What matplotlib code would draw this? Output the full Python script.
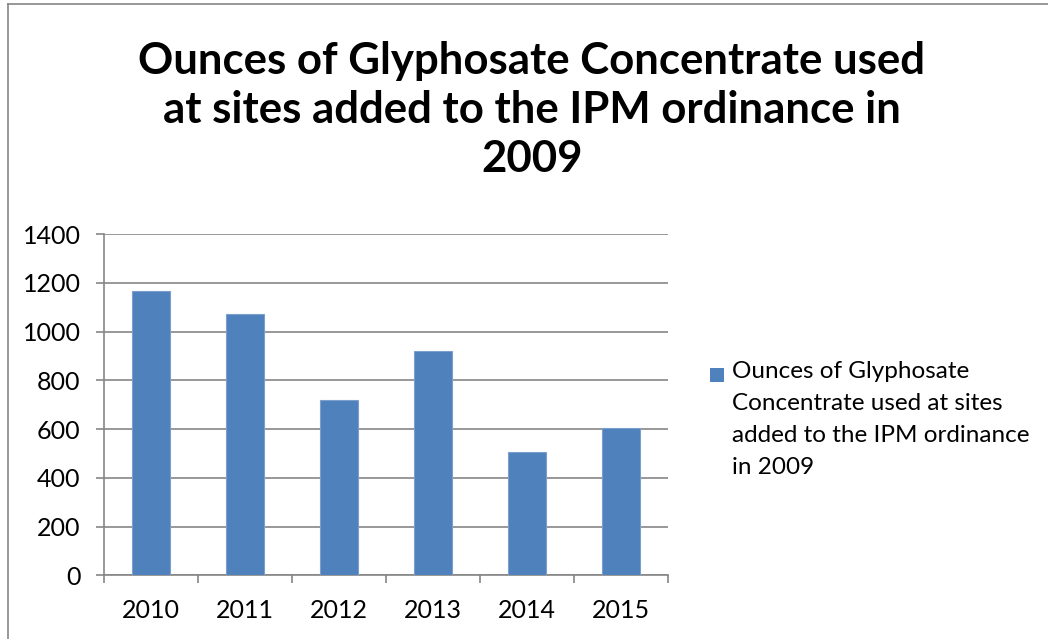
import matplotlib
matplotlib.use('Agg')
import matplotlib.pyplot as plt
from matplotlib.lines import Line2D
from matplotlib.patches import Rectangle

years = ['2010', '2011', '2012', '2013', '2014', '2015']
ounces = [1165, 1070, 718, 920, 505, 603]
title = 'Ounces of Glyphosate Concentrate used\nat sites added to the IPM ordinance in\n2009'
legend_label = 'Ounces of Glyphosate\nConcentrate used at sites\nadded to the IPM ordinance\nin 2009'

W, H = 1048, 639
bar_color = '#4F81BD'
grey = '#868686'
plt.rcParams['font.family'] = ['Lato', 'DejaVu Sans']

fig = plt.figure(figsize=(W / 100, H / 100), dpi=100)
ax = fig.add_axes([104.3 / W, 1 - 575.3 / H, (667.7 - 104.3) / W, (575.3 - 234) / H])

x = list(range(len(years)))
ax.bar(x, ounces, width=0.4, color=bar_color, edgecolor='#7BA0CD', linewidth=0.8, zorder=3)

ax.set_xlim(-0.5, len(years) - 0.5)
ax.set_ylim(0, 1400)
ax.set_yticks(range(0, 1401, 200))
ax.set_xticks(x)
ax.set_xticklabels(years)
ax.set_xticks([i - 0.5 for i in range(len(years) + 1)], minor=True)
ax.tick_params(axis='x', which='major', length=0, pad=17, labelsize=18)
ax.tick_params(axis='x', which='minor', length=6, width=1.2, color=grey)
ax.tick_params(axis='y', length=6, width=1.2, color=grey, pad=11, labelsize=18)
ax.grid(axis='y', color=grey, linewidth=1.2, zorder=0)

for s in ['top', 'right']:
    ax.spines[s].set_visible(False)
for s in ['left', 'bottom']:
    ax.spines[s].set_color(grey)
    ax.spines[s].set_linewidth(1.2)

fig.text(532 / W, 1 - 110 / H, title, ha='center', va='center', fontsize=31.5,
         fontweight='bold', linespacing=1.28)

# legend (Excel style: marker aligned with first line)
fig.add_artist(Rectangle((710 / W, 1 - 382 / H), 14 / W, 14 / H, transform=fig.transFigure,
                         facecolor=bar_color, edgecolor='none'))
fig.text(732 / W, 1 - 361 / H, legend_label, ha='left', va='top', fontsize=17.5,
         linespacing=1.65)

# chart area border (left and top visible)
fig.add_artist(Line2D([8 / W, 8 / W], [0, 1 - 4 / H], transform=fig.transFigure,
                      color=grey, linewidth=1.2))
fig.add_artist(Line2D([8 / W, 1], [1 - 4 / H, 1 - 4 / H], transform=fig.transFigure,
                      color=grey, linewidth=1.2))

plt.savefig('out.png', dpi=100)
plt.close('all')
